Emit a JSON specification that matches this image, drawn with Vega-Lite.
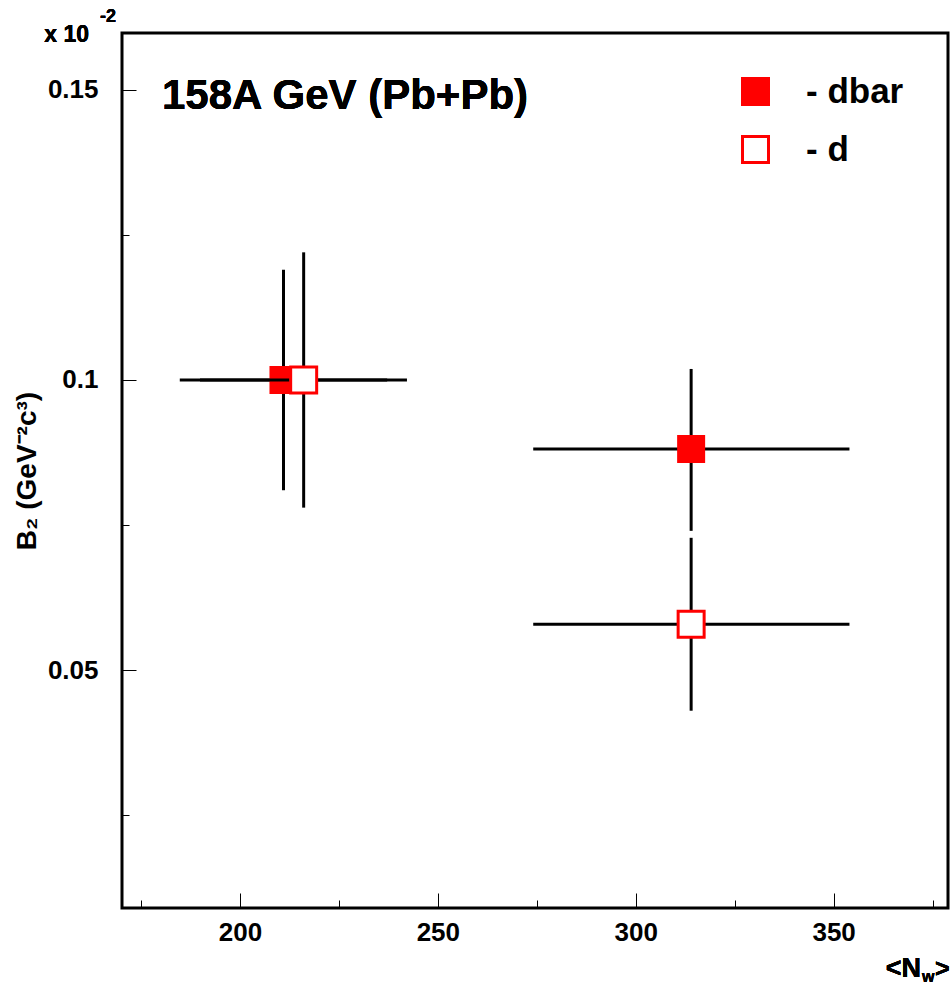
{
  "$schema": "https://vega.github.io/schema/vega-lite/v6.json",
  "width": 826,
  "height": 875,
  "autosize": {"type": "none"},
  "padding": {"left": 122, "top": 33, "right": 4, "bottom": 77},
  "background": "white",
  "config": {
    "font": "Liberation Sans",
    "view": {"stroke": "black", "strokeWidth": 3},
    "axis": {
      "labelFont": "Liberation Sans",
      "labelFontWeight": "bold",
      "labelFontSize": 26,
      "labelColor": "black",
      "tickColor": "black",
      "tickWidth": 1,
      "domain": false,
      "grid": false,
      "titleFont": "Liberation Sans",
      "titleFontWeight": "bold",
      "titleColor": "black",
      "labelFlush": false,
      "labelOverlap": false
    },
    "legend": {
      "symbolType": "square",
      "symbolSize": 676,
      "symbolStrokeColor": "red",
      "symbolStrokeWidth": 3,
      "labelFont": "Liberation Sans",
      "labelFontSize": 35,
      "labelFontWeight": "bold",
      "labelColor": "black",
      "labelOffset": 33,
      "rowPadding": 19,
      "padding": 0
    }
  },
  "data": {
    "values": [
      {"series": "dbar", "nw": 211.0, "b2": 0.1000, "nwlo": 184.8, "nwhi": 237.2, "b2lo": 0.0810, "b2hi": 0.1190},
      {"series": "d", "nw": 216.1, "b2": 0.1000, "nwlo": 189.9, "nwhi": 242.2, "b2lo": 0.0780, "b2hi": 0.1220},
      {"series": "dbar", "nw": 314.0, "b2": 0.0881, "nwlo": 274.1, "nwhi": 354.0, "b2lo": 0.0740, "b2hi": 0.1019},
      {"series": "d", "nw": 314.0, "b2": 0.0579, "nwlo": 274.1, "nwhi": 354.0, "b2lo": 0.0430, "b2hi": 0.0728}
    ]
  },
  "layer": [
    {
      "transform": [{"filter": "datum.series === 'dbar'"}],
      "mark": {"type": "rule", "color": "black", "strokeWidth": 3},
      "encoding": {
        "x": {
          "field": "nwlo", "type": "quantitative",
          "scale": {"domain": [170.2, 378.9], "nice": false, "zero": false},
          "axis": {
            "title": null,
            "values": [175, 200, 225, 250, 275, 300, 325, 350, 375],
            "labelExpr": "datum.value % 50 === 0 ? datum.label : ''",
            "tickSize": {"condition": {"test": "datum.value % 50 === 0", "value": -15}, "value": -8},
            "labelPadding": 26
          }
        },
        "x2": {"field": "nwhi"},
        "y": {
          "field": "b2", "type": "quantitative",
          "scale": {"domain": [0.009, 0.1598], "nice": false, "zero": false},
          "axis": {
            "title": "B₂ (GeV⁻²c³)",
            "titleFontSize": 28,
            "titlePadding": 6,
            "values": [0.025, 0.05, 0.075, 0.1, 0.125, 0.15],
            "format": "~g",
            "labelExpr": "indexof(['0.05','0.1','0.15'], datum.label) >= 0 ? datum.label : ''",
            "tickSize": {"condition": {"test": "indexof([0.05,0.1,0.15], datum.value) >= 0", "value": -14}, "value": -7},
            "labelPadding": 38
          }
        }
      }
    },
    {
      "transform": [{"filter": "datum.series === 'dbar'"}],
      "mark": {"type": "rule", "color": "black", "strokeWidth": 3},
      "encoding": {
        "x": {"field": "nw", "type": "quantitative"},
        "y": {"field": "b2lo", "type": "quantitative"},
        "y2": {"field": "b2hi"}
      }
    },
    {
      "transform": [{"filter": "datum.series === 'dbar'"}],
      "mark": {"type": "point", "shape": "square", "size": 676, "filled": true, "stroke": "red", "strokeWidth": 2, "opacity": 1},
      "encoding": {
        "x": {"field": "nw", "type": "quantitative"},
        "y": {"field": "b2", "type": "quantitative"},
        "fill": {
          "field": "series", "type": "nominal",
          "scale": {"domain": ["dbar", "d"], "range": ["red", "white"]},
          "legend": {"title": null, "orient": "none", "legendX": 616, "legendY": 41, "labelExpr": "'- ' + datum.label"}
        }
      }
    },
    {
      "transform": [{"filter": "datum.series === 'd'"}],
      "mark": {"type": "rule", "color": "black", "strokeWidth": 3},
      "encoding": {
        "x": {"field": "nwlo", "type": "quantitative"},
        "x2": {"field": "nwhi"},
        "y": {"field": "b2", "type": "quantitative"}
      }
    },
    {
      "transform": [{"filter": "datum.series === 'd'"}],
      "mark": {"type": "rule", "color": "black", "strokeWidth": 3},
      "encoding": {
        "x": {"field": "nw", "type": "quantitative"},
        "y": {"field": "b2lo", "type": "quantitative"},
        "y2": {"field": "b2hi"}
      }
    },
    {
      "transform": [{"filter": "datum.series === 'd'"}],
      "mark": {"type": "point", "shape": "square", "size": 676, "filled": true, "stroke": "red", "strokeWidth": 3, "opacity": 1},
      "encoding": {
        "x": {"field": "nw", "type": "quantitative"},
        "y": {"field": "b2", "type": "quantitative"},
        "fill": {"field": "series", "type": "nominal"}
      }
    },
    {
      "mark": {"type": "text", "text": "158A GeV (Pb+Pb)", "align": "left", "baseline": "alphabetic", "fontSize": 42, "fontWeight": "bold", "font": "Liberation Sans", "color": "black"},
      "encoding": {"x": {"datum": 180.3}, "y": {"datum": 0.1467}}
    },
    {
      "mark": {"type": "text", "text": "x 10", "align": "right", "baseline": "alphabetic", "dx": -33, "dy": 9, "fontSize": 23, "fontWeight": "bold", "font": "Liberation Sans", "color": "black"},
      "encoding": {"x": {"datum": 170.2}, "y": {"datum": 0.1598}}
    },
    {
      "mark": {"type": "text", "text": "-2", "align": "left", "baseline": "alphabetic", "dx": -22, "dy": -11, "fontSize": 18, "fontWeight": "bold", "font": "Liberation Sans", "color": "black"},
      "encoding": {"x": {"datum": 170.2}, "y": {"datum": 0.1598}}
    },
    {
      "mark": {"type": "text", "text": "<N", "align": "right", "baseline": "alphabetic", "dx": -27, "dy": 69, "fontSize": 27, "fontWeight": "bold", "font": "Liberation Sans", "color": "black"},
      "encoding": {"x": {"datum": 378.9}, "y": {"datum": 0.009}}
    },
    {
      "mark": {"type": "text", "text": "w", "align": "left", "baseline": "alphabetic", "dx": -26, "dy": 74, "fontSize": 16, "fontWeight": "bold", "font": "Liberation Sans", "color": "black"},
      "encoding": {"x": {"datum": 378.9}, "y": {"datum": 0.009}}
    },
    {
      "mark": {"type": "text", "text": ">", "align": "left", "baseline": "alphabetic", "dx": -13, "dy": 69, "fontSize": 25, "fontWeight": "bold", "font": "Liberation Sans", "color": "black"},
      "encoding": {"x": {"datum": 378.9}, "y": {"datum": 0.009}}
    }
  ]
}
